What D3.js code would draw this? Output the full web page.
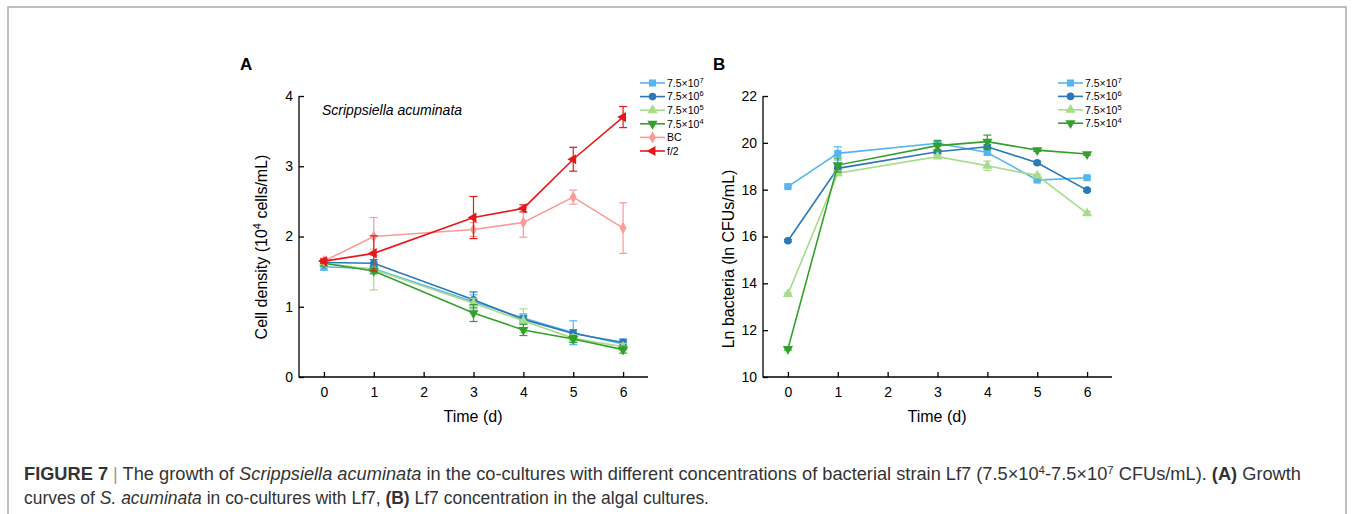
<!DOCTYPE html>
<html><head><meta charset="utf-8">
<script src="https://cdn.jsdelivr.net/npm/d3@7"></script>
<style>body{margin:0;background:#fff}svg{display:block}</style>
</head><body>
<svg id="c" width="1354" height="514"></svg>
<script>
const days = [0, 1, 3, 4, 5, 6];
const xTicks = [0, 1, 2, 3, 4, 5, 6];
const yTicksA = [0, 1, 2, 3, 4];
const yTicksB = [10, 12, 14, 16, 18, 20, 22];
const seriesNames = ["7.5×10^7", "7.5×10^6", "7.5×10^5", "7.5×10^4", "BC", "f/2"];
const seriesColors = ["#55b5f0", "#2a78b6", "#a9db8c", "#34a02c", "#fb9a99", "#e31a1c"];
const seriesShapes = ["square", "circle", "triUp", "triDown", "diamond", "triLeft"];

// Panel A: cell density (10^4 cells/mL)
const a1e7 = [1.57, 1.54, 1.07, 0.84, 0.63, 0.47];
const a1e6 = [1.63, 1.62, 1.10, 0.82, 0.62, 0.49];
const a1e5 = [1.62, 1.53, 1.05, 0.80, 0.55, 0.43];
const a1e4 = [1.62, 1.51, 0.91, 0.67, 0.54, 0.39];
const aBC  = [1.65, 2.00, 2.10, 2.20, 2.56, 2.12];
const aF2  = [1.65, 1.76, 2.27, 2.40, 3.10, 3.70];
const ae1e7 = [0.05, 0.04, 0.10, 0.06, 0.17, 0.05];
const ae1e6 = [0.04, 0.05, 0.11, 0.05, 0.05, 0.05];
const ae1e5 = [0.05, 0.29, 0.07, 0.17, 0.05, 0.05];
const ae1e4 = [0.04, 0.04, 0.12, 0.08, 0.05, 0.05];
const aeBC  = [0.04, 0.27, 0.10, 0.21, 0.10, 0.36];
const aeF2  = [0.03, 0.25, 0.30, 0.05, 0.17, 0.15];

// Panel B: Ln bacteria (ln CFUs/mL)
const b1e7 = [18.13, 19.55, 19.98, 19.59, 18.41, 18.51];
const b1e6 = [15.82, 18.91, 19.62, 19.83, 19.15, 17.98];
const b1e5 = [13.54, 18.70, 19.41, 19.02, 18.60, 16.99];
const b1e4 = [11.20, 19.05, 19.88, 20.05, 19.69, 19.52];
const be1e7 = [0.05, 0.28, 0.08, 0.10, 0.05, 0.05];
const be1e6 = [0.05, 0.10, 0.08, 0.08, 0.06, 0.06];
const be1e5 = [0.05, 0.10, 0.06, 0.20, 0.06, 0.08];
const be1e4 = [0.05, 0.30, 0.22, 0.28, 0.06, 0.05];

const svg = d3.select("#c");
const FONT = "'Liberation Sans', Arial, sans-serif";

// frame
svg.append("rect").attr("x", 8).attr("y", 7).attr("width", 1338).attr("height", 520)
  .attr("fill", "none").attr("stroke", "#aaaaaa").attr("stroke-width", 1.5);

function symbolFor(shape) {
  const g = {square: d3.symbolSquare, circle: d3.symbolCircle, triUp: d3.symbolTriangle,
    triDown: d3.symbolTriangle, diamond: d3.symbolDiamond, triLeft: d3.symbolTriangle}[shape];
  const size = {square: 50, circle: 45, triUp: 45, triDown: 45, diamond: 42, triLeft: 45}[shape];
  return d3.symbol(g, size)();
}
function rotFor(shape) {
  return shape === "triDown" ? 180 : shape === "triLeft" ? -90 : 0;
}

function panel(opts) {
  const x = d3.scaleLinear().domain([-0.5, 6.5]).range([opts.x0, opts.x1]);
  const y = d3.scaleLinear().domain(opts.yDomain).range([377, 96]);
  const g = svg.append("g");
  // axes
  const ax = g.append("g").attr("transform", "translate(0,377)")
    .call(d3.axisBottom(x).tickValues(xTicks).tickFormat(d3.format("d"))
      .tickSizeInner(-5).tickSizeOuter(0).tickPadding(10));
  const ay = g.append("g").attr("transform", `translate(${opts.x0},0)`)
    .call(d3.axisLeft(y).tickValues(opts.yTicks).tickFormat(d3.format("d"))
      .tickSizeInner(-5).tickSizeOuter(0).tickPadding(6));
  [ax, ay].forEach(a => {
    a.selectAll("path,line").attr("stroke", "#000").attr("stroke-width", 1.3);
    a.selectAll("text").attr("font-family", FONT).attr("font-size", 14).attr("fill", "#000");
  });
  ax.select(".domain").attr("d", `M${opts.x0},0H${opts.x1}`);
  ay.select(".domain").attr("d", `M0,${y(opts.yDomain[0]) + 0.6}V96`);

  // series
  opts.series.forEach((s, i) => {
    const col = seriesColors[s.idx];
    const sg = g.append("g");
    // error bars
    s.vals.forEach((v, j) => {
      const e = s.err[j];
      const xx = x(days[j]);
      sg.append("line").attr("x1", xx).attr("x2", xx).attr("y1", y(v - e)).attr("y2", y(v + e))
        .attr("stroke", col).attr("stroke-width", 1.2);
      [v - e, v + e].forEach(t => sg.append("line").attr("x1", xx - 4).attr("x2", xx + 4)
        .attr("y1", y(t)).attr("y2", y(t)).attr("stroke", col).attr("stroke-width", 1.2));
    });
    sg.append("path").datum(s.vals)
      .attr("d", d3.line().x((d, j) => x(days[j])).y(d => y(d)))
      .attr("fill", "none").attr("stroke", col).attr("stroke-width", 1.6);
    s.vals.forEach((v, j) => {
      const sh = seriesShapes[s.idx];
      sg.append("path").attr("d", symbolFor(sh))
        .attr("transform", `translate(${x(days[j])},${y(v)}) rotate(${rotFor(sh)})`)
        .attr("fill", col);
    });
  });

  // legend
  opts.series.forEach((s, i) => {
    const ly = opts.ly0 + i * opts.ldy;
    const col = seriesColors[s.idx];
    const sh = seriesShapes[s.idx];
    g.append("line").attr("x1", opts.lx).attr("x2", opts.lx + 25).attr("y1", ly).attr("y2", ly)
      .attr("stroke", col).attr("stroke-width", 1.6);
    g.append("path").attr("d", symbolFor(sh))
      .attr("transform", `translate(${opts.lx + 12.5},${ly}) rotate(${rotFor(sh)})`).attr("fill", col);
    const t = g.append("text").attr("x", opts.lx + 27).attr("y", ly + 3.8)
      .attr("font-family", FONT).attr("font-size", 10.5).attr("fill", "#000");
    const name = seriesNames[s.idx];
    if (name.includes("^")) {
      const [base, sup] = name.split("^");
      t.append("tspan").text(base);
      t.append("tspan").attr("dy", -4).attr("font-size", 7.5).text(sup);
    } else t.text(name);
  });

  // titles
  g.append("text").attr("x", (opts.x0 + opts.x1) / 2 - 0.5).attr("y", 422)
    .attr("text-anchor", "middle").attr("font-family", FONT).attr("font-size", 16).text("Time (d)");
  const yl = g.append("text").attr("transform", `translate(${opts.ytx},${opts.yty}) rotate(-90)`)
    .attr("text-anchor", "middle").attr("font-family", FONT).attr("font-size", 16);
  opts.ytitle(yl);
  g.append("text").attr("x", opts.px).attr("y", 70).attr("font-family", FONT)
    .attr("font-size", 17).attr("font-weight", "bold").text(opts.plabel);
  return {x, y, g};
}

const A = panel({
  x0: 299, x1: 648, yDomain: [0, 4], yTicks: yTicksA,
  series: [
    {idx: 0, vals: a1e7, err: ae1e7}, {idx: 1, vals: a1e6, err: ae1e6},
    {idx: 2, vals: a1e5, err: ae1e5}, {idx: 3, vals: a1e4, err: ae1e4},
    {idx: 4, vals: aBC, err: aeBC}, {idx: 5, vals: aF2, err: aeF2}],
  lx: 640, ly0: 83, ldy: 13.6, ytx: 267, yty: 247, px: 240, plabel: "A",
  ytitle: t => {
    t.append("tspan").text("Cell density (10");
    t.append("tspan").attr("dy", -6).attr("font-size", 11).text("4");
    t.append("tspan").attr("dy", 6).text(" cells/mL)");
  }
});
A.g.append("text").attr("x", 322).attr("y", 115).attr("font-family", FONT)
  .attr("font-size", 14).attr("font-style", "italic").text("Scrippsiella acuminata");

panel({
  x0: 763, x1: 1112, yDomain: [10, 22], yTicks: yTicksB,
  series: [
    {idx: 0, vals: b1e7, err: be1e7}, {idx: 1, vals: b1e6, err: be1e6},
    {idx: 2, vals: b1e5, err: be1e5}, {idx: 3, vals: b1e4, err: be1e4}],
  lx: 1058, ly0: 83, ldy: 13.4, ytx: 734, yty: 259, px: 713, plabel: "B",
  ytitle: t => t.text("Ln bacteria (ln CFUs/mL)")
});

// caption
const CF = "'Liberation Sans Narrow', 'Liberation Sans', Arial, sans-serif";
const c1 = svg.append("text").attr("x", 24).attr("y", 480).attr("font-family", CF)
  .attr("font-size", 17.5).attr("fill", "#333")
  .attr("textLength", 1277).attr("lengthAdjust", "spacingAndGlyphs");
c1.append("tspan").attr("font-weight", "bold").text("FIGURE 7");
c1.append("tspan").attr("fill", "#999").text(" | ");
c1.append("tspan").text("The growth of ");
c1.append("tspan").attr("font-style", "italic").text("Scrippsiella acuminata");
c1.append("tspan").text(" in the co-cultures with different concentrations of bacterial strain Lf7 (7.5×10");
c1.append("tspan").attr("dy", -6).attr("font-size", 11).text("4");
c1.append("tspan").attr("dy", 6).text("-7.5×10");
c1.append("tspan").attr("dy", -6).attr("font-size", 11).text("7");
c1.append("tspan").attr("dy", 6).text(" CFUs/mL). ");
c1.append("tspan").attr("font-weight", "bold").text("(A)");
c1.append("tspan").text(" Growth");
const c2 = svg.append("text").attr("x", 24).attr("y", 504).attr("font-family", CF)
  .attr("font-size", 17.5).attr("fill", "#333")
  .attr("textLength", 685).attr("lengthAdjust", "spacingAndGlyphs");
c2.append("tspan").text("curves of ");
c2.append("tspan").attr("font-style", "italic").text("S. acuminata");
c2.append("tspan").text(" in co-cultures with Lf7, ");
c2.append("tspan").attr("font-weight", "bold").text("(B)");
c2.append("tspan").text(" Lf7 concentration in the algal cultures.");
</script>
</body></html>
